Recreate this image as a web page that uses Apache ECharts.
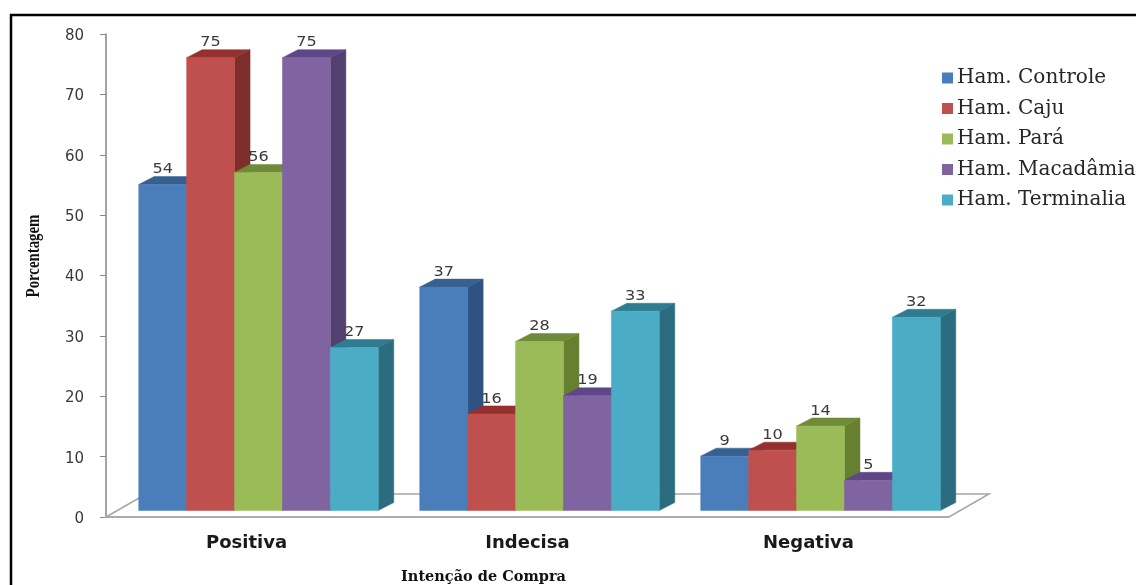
<!DOCTYPE html>
<html lang="pt">
<head>
<meta charset="utf-8">
<title>Intenção de Compra</title>
<style>
  html, body { margin: 0; padding: 0; background: #fff; }
  #chart { width: 1136px; height: 585px; }
</style>
<script src="https://cdn.jsdelivr.net/npm/echarts@6/dist/echarts.min.js"></script>
</head>
<body>
<div id="chart"></div>
<script>
// Purchase intention per burger formulation, in percent
const categories = ['Positiva', 'Indecisa', 'Negativa'];
const controle = [54, 37, 9];
const caju = [75, 16, 10];
const para = [56, 28, 14];
const macadamia = [75, 19, 5];
const terminalia = [27, 33, 32];

const seriesNames = ['Ham. Controle', 'Ham. Caju', 'Ham. Pará', 'Ham. Macadâmia', 'Ham. Terminalia'];
const seriesValues = [controle, caju, para, macadamia, terminalia];

// Face colours of each extruded bar: front, top, side
const frontColors = ['#4a7ebb', '#c0504d', '#9bbb59', '#8064a2', '#4bacc6'];
const topColors = ['#35608f', '#94302e', '#6f8b39', '#5f4686', '#2f7b90'];
const sideColors = ['#2f5283', '#7d2e2c', '#66802f', '#54406f', '#2c6c80'];

// Oblique projection used for the pseudo-3D look, in pixels
const DEPTH_X = 15.5;
const DEPTH_Y = 8;
const FLOOR_X = 40;
const FLOOR_Y = 23;
const FRONT_LIFT = 6.5;   // bars stand a little way in from the front edge of the floor
const BAR_RATIO = 0.1705; // bar width as a share of one category band
const GROUP_SHIFT = 12;   // the cluster sits slightly right of the band centre

const textGrey = '#3a3a3a';

function quad(points, color) {
  return {
    type: 'polygon',
    shape: { points: points },
    style: { fill: color, stroke: color, lineWidth: 0.5 }
  };
}

function renderBar(params, api) {
  const idx = params.seriesIndex - 1;
  const cat = api.value(0);
  const value = api.value(1);
  const band = api.size([1, 0])[0];
  const w = band * BAR_RATIO;
  const topPt = api.coord([cat, value]);
  const basePt = api.coord([cat, 0]);
  const left = basePt[0] + GROUP_SHIFT + (idx - 2.5) * w;
  const right = left + w;
  const yTop = topPt[1] - FRONT_LIFT;
  const yBase = basePt[1] - FRONT_LIFT;
  return {
    type: 'group',
    children: [
      quad([[right, yTop], [right + DEPTH_X, yTop - DEPTH_Y], [right + DEPTH_X, yBase - DEPTH_Y], [right, yBase]], sideColors[idx]),
      quad([[left, yTop], [left + DEPTH_X, yTop - DEPTH_Y], [right + DEPTH_X, yTop - DEPTH_Y], [right, yTop]], topColors[idx]),
      quad([[left, yTop], [right, yTop], [right, yBase], [left, yBase]], frontColors[idx]),
      {
        type: 'text',
        x: left + w / 2,
        y: yTop - DEPTH_Y,
        scaleX: 1.15,
        style: {
          text: String(value),
          fill: textGrey,
          font: '14px "DejaVu Sans"',
          textAlign: 'center',
          textVerticalAlign: 'bottom'
        }
      }
    ]
  };
}

function renderFloor(params) {
  const g = params.coordSys;
  const x0 = g.x, x1 = g.x + g.width, y0 = g.y + g.height;
  return {
    type: 'polygon',
    shape: { points: [[x0, y0], [x0 + FLOOR_X, y0 - FLOOR_Y], [x1 + FLOOR_X, y0 - FLOOR_Y], [x1, y0]] },
    style: { fill: 'none', stroke: '#a6a6a6', lineWidth: 1.5 }
  };
}

const barSeries = seriesNames.map(function (name, i) {
  return {
    name: name,
    type: 'custom',
    renderItem: renderBar,
    clip: false,
    itemStyle: { color: frontColors[i] },
    encode: { x: 0, y: 1 },
    data: seriesValues[i].map(function (v, c) { return [c, v]; })
  };
});

const chart = echarts.init(document.getElementById('chart'));
chart.setOption({
  animation: false,
  backgroundColor: '#fff',
  grid: { left: 106, right: 187, top: 34, bottom: 68, outerBoundsMode: 'none' },
  legend: {
    orient: 'vertical',
    left: 937,
    top: 63,
    data: seriesNames,
    icon: 'rect',
    itemWidth: 11,
    itemHeight: 11,
    itemGap: 10.5,
    textStyle: {
      fontFamily: '"DejaVu Serif"',
      fontSize: 20,
      lineHeight: 20,
      color: '#262626',
      padding: [0, 0, 0, -1]
    }
  },
  xAxis: {
    type: 'category',
    data: categories,
    axisTick: { show: false },
    axisLine: { lineStyle: { color: '#a6a6a6', width: 1.5 } },
    axisLabel: {
      margin: 17,
      fontFamily: '"DejaVu Sans"',
      fontWeight: 'bold',
      fontSize: 18,
      color: '#1a1a1a'
    },
    name: 'Intenção de Compra',
    nameLocation: 'middle',
    nameGap: 53,
    nameTextStyle: {
      fontFamily: '"DejaVu Serif"',
      fontWeight: 'bold',
      fontSize: 14.5,
      color: '#111',
      padding: [0, 88, 0, 0]
    }
  },
  yAxis: {
    type: 'value',
    min: 0,
    max: 80,
    interval: 10,
    splitLine: { show: false },
    axisLine: { show: true, lineStyle: { color: '#868686', width: 1.5 } },
    axisTick: { show: true, length: 6, lineStyle: { color: '#868686' } },
    axisLabel: {
      margin: 22,
      verticalAlign: 'top',
      lineHeight: 4,
      fontFamily: '"DejaVu Sans"',
      fontSize: 15,
      color: textGrey
    }
  },
  graphic: [
    { type: 'line', shape: { x1: 10, y1: 15, x2: 1136, y2: 15 }, style: { stroke: '#000', lineWidth: 2.5 } },
    { type: 'line', shape: { x1: 11, y1: 14, x2: 11, y2: 585 }, style: { stroke: '#000', lineWidth: 2.5 } },
    {
      // Value-axis title, set tall and narrow
      type: 'text',
      x: 34,
      y: 256,
      rotation: Math.PI / 2,
      scaleX: 0.78,
      style: {
        text: 'Porcentagem',
        font: 'bold 19px "Liberation Serif"',
        fill: '#111',
        textAlign: 'center',
        textVerticalAlign: 'middle'
      }
    }
  ],
  series: [
    { type: 'custom', renderItem: renderFloor, clip: false, silent: true, data: [[0, 0]], encode: { x: 0, y: 1 } }
  ].concat(barSeries)
});
</script>
</body>
</html>
